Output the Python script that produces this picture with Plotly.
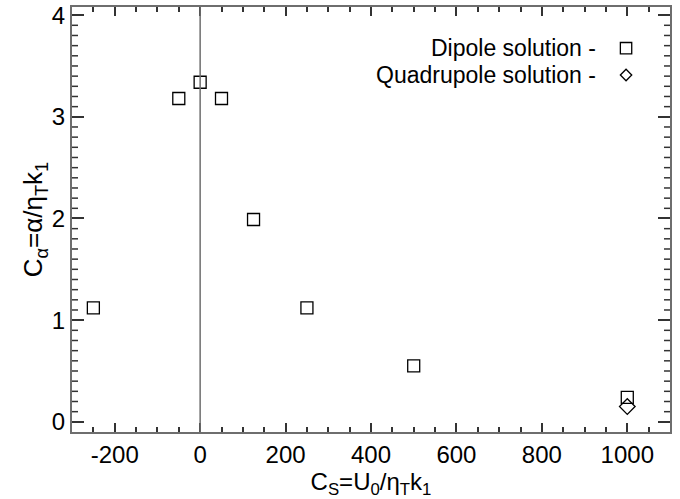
import plotly.graph_objects as go

# Data
dipole_cs = [-250, -50, 0, 50, 125, 250, 500, 1000]
dipole_ca = [1.12, 3.18, 3.34, 3.18, 1.99, 1.12, 0.55, 0.24]
quad_cs = [1000]
quad_ca = [0.15]

x_tickvals = [-200, 0, 200, 400, 600, 800, 1000]
x_ticktext = ["-200", "0", "200", "400", "600", "800", "1000"]
y_tickvals = [0, 1, 2, 3, 4]
y_ticktext = ["0", "1", "2", "3", "4"]

legend_labels = ["Dipole solution - ", "Quadrupole solution - "]

FONT = "Liberation Sans, Arial, Helvetica, sans-serif"
AXC = "#6e6e6e"
TKC = "#333333"
FS = 24
LFS = 23

XR = [-300, 1100]
YR = [-0.1, 4.08]
y_minor = [round(i * 0.1, 1) for i in range(0, 41) if i % 10 != 0]

fig = go.Figure()
fig.add_trace(go.Scatter(x=dipole_cs, y=dipole_ca, mode="markers",
                         marker=dict(symbol="square-open", size=12, color="black",
                                     line=dict(width=1.3, color="black")),
                         showlegend=False))
fig.add_trace(go.Scatter(x=quad_cs, y=quad_ca, mode="markers",
                         marker=dict(symbol="diamond-open", size=12, color="black",
                                     line=dict(width=1.3, color="black")),
                         showlegend=False))

axis_common = dict(showgrid=False, zeroline=False, showline=True, linecolor=AXC, linewidth=2,
                   mirror="ticks", ticks="inside", tickcolor=TKC, tickwidth=1.5,
                   automargin=False,
                   tickfont=dict(family=FONT, size=FS, color="black"))

fig.update_layout(
    xaxis=dict(range=XR, tickmode="array", tickvals=x_tickvals, ticktext=x_ticktext, ticklen=9,
               minor=dict(tickmode="linear", tick0=0, dtick=50, ticks="inside", ticklen=5,
                          tickcolor=TKC, tickwidth=1.5, showgrid=False),
               title=dict(text="C<sub>S</sub>=U<sub>0</sub>/η<sub>T</sub>k<sub>1</sub>",
                          font=dict(family=FONT, size=FS, color="black"), standoff=1),
               **axis_common),
    yaxis=dict(range=YR, tickmode="array", tickvals=y_tickvals, ticktext=y_ticktext, ticklen=12,
               title=dict(text="C<sub>α</sub>=α/η<sub>T</sub>k<sub>1</sub>",
                          font=dict(family=FONT, size=26, color="black"), standoff=0),
               **axis_common),
)

# y minor ticks as pixel-length shapes (left and right)
tick_line = dict(color=TKC, width=1.5)
for v in y_minor:
    fig.add_shape(type="line", xref="x", yref="y", xsizemode="pixel", xanchor=XR[0],
                  y0=v, y1=v, x0=0, x1=6, line=tick_line, layer="above")
    fig.add_shape(type="line", xref="x", yref="y", xsizemode="pixel", xanchor=XR[1],
                  y0=v, y1=v, x0=0, x1=-6, line=tick_line, layer="above")

# vertical line at x=0
fig.add_shape(type="line", x0=0, x1=0, y0=0, y1=1, xref="x", yref="paper",
              line=dict(color=AXC, width=1.5))

# legend text + glyphs
leg_y = [0.903, 0.84]
for i, lab in enumerate(legend_labels):
    fig.add_annotation(x=0.89, y=leg_y[i], xref="paper", yref="paper", text=lab,
                       showarrow=False, xanchor="right", yanchor="middle",
                       font=dict(family=FONT, size=LFS, color="black"))
# square glyph
fig.add_shape(type="rect", xref="paper", yref="paper",
              x0=0.917, x1=0.936, y0=leg_y[0] - 0.0135, y1=leg_y[0] + 0.0135,
              line=dict(color="black", width=1.3))
# diamond glyph
cx, cy, dx, dy = 0.9265, leg_y[1], 0.0095, 0.0135
fig.add_shape(type="path", xref="paper", yref="paper",
              path=f"M {cx-dx} {cy} L {cx} {cy+dy} L {cx+dx} {cy} L {cx} {cy-dy} Z",
              line=dict(color="black", width=1.3))

fig.update_layout(width=680, height=499, margin=dict(l=72, r=10, t=7, b=67),
                  plot_bgcolor="white", paper_bgcolor="white",
                  font=dict(family=FONT, color="black"))

fig.write_html("out.html", config={"displayModeBar": False},
               post_script="document.body.style.margin='0';document.body.style.padding='0';")
